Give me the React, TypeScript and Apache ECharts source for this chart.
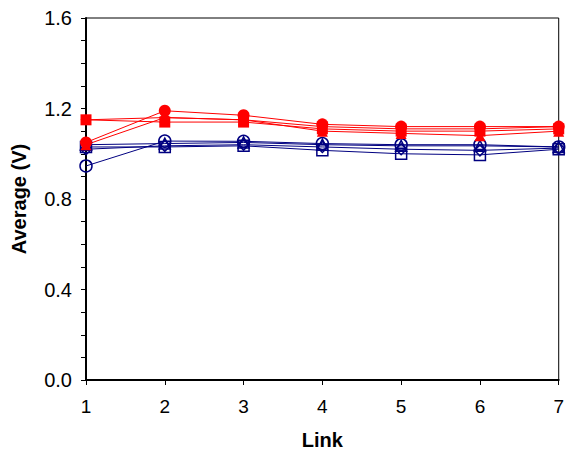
import React, { useEffect, useRef } from "react";
import * as echarts from "echarts";

const links = [1, 2, 3, 4, 5, 6, 7];
const yTicks = [0, 0.4, 0.8, 1.2, 1.6];

const redCircle = [1.05, 1.19, 1.17, 1.13, 1.12, 1.12, 1.12];
const redSquare = [1.15, 1.14, 1.14, 1.11, 1.10, 1.10, 1.11];
const redTriangle = [1.04, 1.16, 1.15, 1.10, 1.09, 1.08, 1.10];
const redDiamond = [1.15, 1.16, 1.15, 1.12, 1.11, 1.11, 1.12];

const blueCircle = [0.946, 1.056, 1.055, 1.045, 1.04, 1.04, 1.03];
const blueSquare = [1.03, 1.03, 1.035, 1.015, 1.0, 0.995, 1.02];
const blueDiamond = [1.02, 1.035, 1.04, 1.03, 1.02, 1.015, 1.025];
const blueTriangle = [1.04, 1.045, 1.05, 1.04, 1.035, 1.035, 1.03];

const RED = "#ff0000";
const BLUE = "#000080";
const FONT = "Liberation Sans";

function mk(name: string, vals: number[], symbol: string, filled: boolean) {
  const c = filled ? RED : BLUE;
  return {
    name,
    type: "line",
    data: vals.map((v, i) => [links[i], v]),
    symbol,
    symbolSize: symbol === "circle" ? 12 : 11,
    lineStyle: { color: c, width: 1 },
    itemStyle: filled
      ? { color: c, borderColor: c, borderWidth: 0 }
      : { color: "rgba(255,255,255,0)", borderColor: c, borderWidth: 1.5 },
    emphasis: { disabled: true },
  };
}

export default function App() {
  const ref = useRef<HTMLDivElement>(null);
  useEffect(() => {
    const chart = echarts.init(ref.current!, null, { renderer: "svg" });
    chart.setOption({
      animation: false,
      grid: {
        left: 86,
        right: 5,
        top: 18,
        bottom: 73,
        show: true,
        borderColor: "#000",
        borderWidth: 1,
        backgroundColor: "transparent",
      },
      xAxis: {
        type: "value",
        min: 1,
        max: 7,
        interval: 1,
        name: "Link",
        nameLocation: "middle",
        nameGap: 50,
        nameTextStyle: { fontFamily: FONT, fontSize: 20, fontWeight: "bold", color: "#000" },
        axisLine: { show: true, onZero: false, lineStyle: { color: "#000", width: 2 } },
        axisTick: { show: true, inside: false, length: 5, lineStyle: { color: "#000", width: 1 } },
        axisLabel: { fontFamily: FONT, fontSize: 19, color: "#000", margin: 17, showMaxLabel: true },
        splitLine: { show: false },
      },
      yAxis: {
        type: "value",
        min: yTicks[0],
        max: yTicks[yTicks.length - 1],
        interval: 0.4,
        name: "Average (V)",
        nameLocation: "middle",
        nameGap: 57,
        nameTextStyle: { fontFamily: FONT, fontSize: 20, fontWeight: "bold", color: "#000" },
        axisLine: { show: true, lineStyle: { color: "#000", width: 2 } },
        axisTick: { show: true, inside: false, length: 5, lineStyle: { color: "#000", width: 1 } },
        minorTick: { show: true, splitNumber: 4, length: 5, lineStyle: { color: "#000", width: 1 } },
        axisLabel: {
          fontFamily: FONT,
          fontSize: 20,
          color: "#000",
          margin: 14,
          formatter: (v: number) => v.toFixed(1),
        },
        splitLine: { show: false },
      },
      series: [
        mk("blueCircle", blueCircle, "circle", false),
        mk("blueSquare", blueSquare, "rect", false),
        mk("blueDiamond", blueDiamond, "diamond", false),
        mk("blueTriangle", blueTriangle, "triangle", false),
        mk("redCircle", redCircle, "circle", true),
        mk("redSquare", redSquare, "rect", true),
        mk("redTriangle", redTriangle, "triangle", true),
        mk("redDiamond", redDiamond, "diamond", true),
      ],
    });
    return () => chart.dispose();
  }, []);
  return <div ref={ref} style={{ width: 567, height: 455, position: "absolute", left: 0, top: 0 }} />;
}
